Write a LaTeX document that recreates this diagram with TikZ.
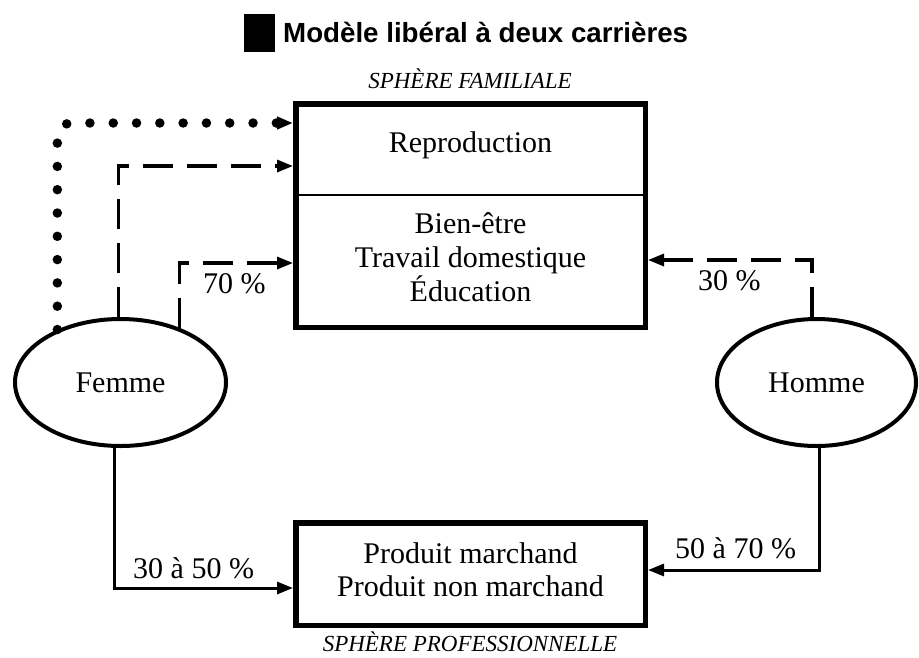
\documentclass[tikz,border=0pt]{standalone}
\usepackage{fontspec}
\setmainfont{Liberation Serif}
\newfontfamily\titlefont{Liberation Sans}
\usetikzlibrary{arrows.meta,shapes.geometric}
\begin{document}
\begin{tikzpicture}[x=1pt,y=-1pt,
  txt/.style={font=\fontsize{30}{34}\selectfont, inner sep=0pt, anchor=base},
  sph/.style={font=\fontsize{23}{26}\selectfont\itshape, inner sep=0pt, anchor=base},
  lbl/.style={font=\fontsize{30}{34}\selectfont, inner sep=0pt, anchor=base west},
  boxframe/.style={draw, line width=5.5pt, inner sep=0pt, minimum width=349.5pt},
  oval/.style={draw, ellipse, line width=4pt, minimum height=127pt, inner sep=0pt,
               font=\fontsize{30}{34}\selectfont},
  tip/.style={-{Triangle[length=16pt,width=12pt]}},
  dashline/.style={tip, line width=3.2pt, dash pattern=on 30pt off 14pt},
  dotline/.style={tip, line width=9.5pt, line cap=round, dash pattern=on 0pt off 23.3pt, rounded corners=14pt},
  solidline/.style={tip, line width=3pt}
]
\path[fill=white, use as bounding box] (0,0) rectangle (919,657);

% title
\node[fill=black, minimum width=31pt, minimum height=38pt, inner sep=0pt] (sq) at (259.5,33) {};
\node[font=\titlefont\bfseries\fontsize{27.7}{30}\selectfont, anchor=base west, inner sep=0pt] (title) at (283,42) {Modèle libéral à deux carrières};

% family sphere
\node[sph] (sf) at (470,88) {SPHÈRE FAMILIALE};
\node[boxframe, minimum height=223.5pt] (fam) at (470.5,215.5) {};
\coordinate (ydiv) at (0,195);
\draw[line width=2.5pt] (fam.west |- ydiv) -- (fam.east |- ydiv);
\node[txt] (rep) at (470.5,152) {Reproduction};
\node[txt] (bien) at (470.5,233) {Bien-être};
\node[txt] (trav) at (470.5,267) {Travail domestique};
\node[txt] (educ) at (470.5,301) {Éducation};

% professional sphere
\node[boxframe, minimum height=102.5pt] (pro) at (470.5,574) {};
\node[txt] (pm) at (470.5,563) {Produit marchand};
\node[txt] (pnm) at (470.5,596) {Produit non marchand};
\node[sph] (sp) at (470,651) {SPHÈRE PROFESSIONNELLE};

% persons
\node[oval, minimum width=211pt] (fem) at (120.5,382.5) {Femme};
\node[oval, minimum width=199pt] (hom) at (816.5,382.5) {Homme};

% connectors
\coordinate (ydot) at (0,123);
\coordinate (yd1) at (0,166);
\coordinate (yd2) at (0,263);
\coordinate (yr) at (0,260);
\coordinate (ybl) at (0,588);
\coordinate (ybr) at (0,570);

\draw[dotline] (fem.140) |- (fam.west |- ydot);
\draw[dashline] (fem.92) |- (fam.west |- yd1);
\draw[dashline] (fem.43) |- (fam.west |- yd2);
\draw[dashline] (hom.94) |- (fam.east |- yr);
\draw[solidline] (fem.265) |- (pro.west |- ybl);
\draw[solidline] (hom.273) |- (pro.east |- ybr);

% labels
\node[lbl] (l70) at (203,293) {70 \%};
\node[lbl] (l30) at (698,290) {30 \%};
\node[lbl] (l3050) at (133,578) {30 à 50 \%};
\node[lbl] (l5070) at (675,558) {50 à 70 \%};
\end{tikzpicture}
\end{document}
